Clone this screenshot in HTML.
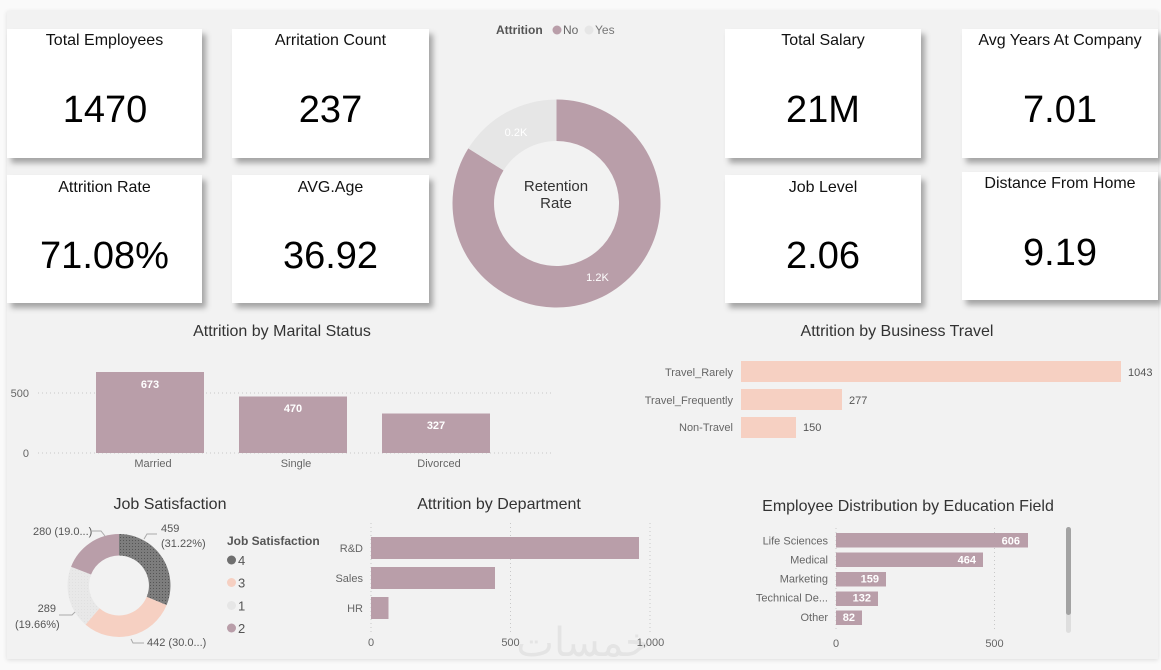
<!DOCTYPE html>
<html><head><meta charset="utf-8"><style>
html,body{margin:0;padding:0;background:#fafafa;}
svg{display:block;}
text{font-family:"Liberation Sans",sans-serif;}
.ct{font-size:16px;fill:#111;text-anchor:middle;}
.cv{font-size:38px;fill:#000;text-anchor:middle;}
.st{font-size:16px;fill:#333;text-anchor:middle;}
.ax{font-size:11px;fill:#666;}
.lb{font-size:11px;fill:#555;}
.wv{font-size:11px;fill:#fff;font-weight:bold;}
</style></head><body>
<svg width="1161" height="670" viewBox="0 0 1161 670" xmlns="http://www.w3.org/2000/svg">
<defs>
<filter id="sh" x="-10%" y="-10%" width="130%" height="130%">
<feDropShadow dx="4" dy="5" stdDeviation="3" flood-color="#000" flood-opacity="0.32"/>
</filter>
<filter id="psh" x="-2%" y="-2%" width="104%" height="104%">
<feDropShadow dx="0" dy="1" stdDeviation="2" flood-color="#000" flood-opacity="0.12"/>
</filter>
<pattern id="dots" width="3" height="3" patternUnits="userSpaceOnUse">
<rect width="3" height="3" fill="#7d7d7d"/>
<rect width="1" height="1" fill="#555"/>
</pattern>
<pattern id="ldots" width="3" height="3" patternUnits="userSpaceOnUse">
<rect width="3" height="3" fill="#e8e8e8"/>
<rect width="1" height="1" fill="#e0e0e0"/>
</pattern>
</defs>

<!-- panel -->
<rect x="7" y="11" width="1151" height="648" fill="#f2f2f2" filter="url(#psh)"/>

<!-- KPI cards -->
<g filter="url(#sh)" fill="#fff">
<rect x="7" y="29" width="195" height="129"/>
<rect x="232" y="29" width="197" height="129"/>
<rect x="7" y="175" width="195" height="128"/>
<rect x="232" y="175" width="197" height="128"/>
<rect x="725" y="29" width="196" height="129"/>
<rect x="962" y="29" width="196" height="129"/>
<rect x="725" y="175" width="196" height="128"/>
<rect x="962" y="172" width="196" height="128"/>
</g>
<text class="ct" x="104.5" y="45">Total Employees</text>
<text class="cv" x="105" y="122">1470</text>
<text class="ct" x="330.5" y="45">Arritation Count</text>
<text class="cv" x="330.5" y="122">237</text>
<text class="ct" x="104.5" y="192">Attrition Rate</text>
<text class="cv" x="104.5" y="268">71.08%</text>
<text class="ct" x="330.5" y="192">AVG.Age</text>
<text class="cv" x="330.5" y="268">36.92</text>
<text class="ct" x="823" y="45">Total Salary</text>
<text class="cv" x="823" y="122">21M</text>
<text class="ct" x="1060" y="45">Avg Years At Company</text>
<text class="cv" x="1060" y="122">7.01</text>
<text class="ct" x="823" y="192">Job Level</text>
<text class="cv" x="823" y="268">2.06</text>
<text class="ct" x="1060" y="188">Distance From Home</text>
<text class="cv" x="1060" y="265">9.19</text>

<!-- Retention donut -->
<text x="496" y="34" style="font-size:12px;font-weight:bold;fill:#555">Attrition</text>
<circle cx="557" cy="30" r="4.5" fill="#b99ea9"/>
<text x="563" y="34" style="font-size:12px;fill:#666">No</text>
<circle cx="589" cy="30" r="4.5" fill="#e6e6e6"/>
<text x="595" y="34" style="font-size:12px;fill:#777">Yes</text>
<path d="M556.5 99.5 A104 104 0 1 1 468.3 148.4 L503.5 170.4 A62.5 62.5 0 1 0 556.5 141 Z" fill="#b99ea9"/>
<path d="M468.3 148.4 A104 104 0 0 1 556.5 99.5 L556.5 141 A62.5 62.5 0 0 0 503.5 170.4 Z" fill="#e6e6e6"/>
<text x="516" y="136" style="font-size:11px;fill:#fff" text-anchor="middle">0.2K</text>
<text x="597.5" y="281" style="font-size:11px;fill:#fff" text-anchor="middle">1.2K</text>
<text x="556" y="191" style="font-size:15px;fill:#333" text-anchor="middle">Retention</text>
<text x="556" y="208" style="font-size:15px;fill:#333" text-anchor="middle">Rate</text>

<!-- Marital status -->
<text class="st" x="282" y="336">Attrition by Marital Status</text>
<g stroke="#c8c8c8" stroke-width="1" stroke-dasharray="1 3">
<line x1="38" y1="393" x2="553" y2="393"/>
<line x1="38" y1="453" x2="553" y2="453"/>
</g>
<text class="ax" x="29" y="397" text-anchor="end">500</text>
<text class="ax" x="29" y="457" text-anchor="end">0</text>
<g fill="#b99ea9">
<rect x="96" y="372" width="108" height="81"/>
<rect x="239" y="396.5" width="108" height="56.5"/>
<rect x="382" y="413.5" width="108" height="39.5"/>
</g>
<text class="wv" x="150" y="388" text-anchor="middle">673</text>
<text class="wv" x="293" y="412" text-anchor="middle">470</text>
<text class="wv" x="436" y="429" text-anchor="middle">327</text>
<text class="ax" x="153" y="467" text-anchor="middle">Married</text>
<text class="ax" x="296" y="467" text-anchor="middle">Single</text>
<text class="ax" x="439" y="467" text-anchor="middle">Divorced</text>

<!-- Business travel -->
<text class="st" x="897" y="336">Attrition by Business Travel</text>
<g fill="#f6d0c2">
<rect x="741" y="361" width="380" height="21"/>
<rect x="741" y="389" width="101" height="21"/>
<rect x="741" y="417" width="55" height="21"/>
</g>
<text class="ax" x="733" y="376" text-anchor="end">Travel_Rarely</text>
<text class="ax" x="733" y="404" text-anchor="end">Travel_Frequently</text>
<text class="ax" x="733" y="431" text-anchor="end">Non-Travel</text>
<text class="lb" x="1128" y="376">1043</text>
<text class="lb" x="849" y="404">277</text>
<text class="lb" x="803" y="431">150</text>

<!-- Job satisfaction -->
<text class="st" x="170" y="509">Job Satisfaction</text>
<path d="M119 534 A51.5 51.5 0 0 1 166.6 605.1 L146.7 596.9 A30 30 0 0 0 119 555.5 Z" fill="url(#dots)"/>
<path d="M166.6 605.1 A51.5 51.5 0 0 1 85.5 624.6 L99.5 608.3 A30 30 0 0 0 146.7 596.9 Z" fill="#f6d0c2"/>
<path d="M85.5 624.6 A51.5 51.5 0 0 1 71.05 566.7 L91.07 574.55 A30 30 0 0 0 99.5 608.3 Z" fill="url(#ldots)"/>
<path d="M71.05 566.7 A51.5 51.5 0 0 1 119 534 L119 555.5 A30 30 0 0 0 91.07 574.55 Z" fill="#b99ea9"/>
<g fill="none" stroke="#aaa" stroke-width="1">
<polyline points="92,531 101,531 105,536"/>
<polyline points="144,539 147,534 157,534"/>
<polyline points="59,615 72,615 75,612"/>
<polyline points="131,639 133,643 144,643"/>
</g>
<text class="lb" x="33" y="535">280 (19.0...)</text>
<text class="lb" x="161" y="532">459</text>
<text class="lb" x="161" y="547">(31.22%)</text>
<text class="lb" x="56" y="612" text-anchor="end">289</text>
<text class="lb" x="15" y="628">(19.66%)</text>
<text class="lb" x="147" y="646">442 (30.0...)</text>
<text x="227" y="545" style="font-size:12px;font-weight:bold;fill:#555">Job Satisfaction</text>
<circle cx="231.5" cy="560" r="4.5" fill="#6f6f6f"/>
<circle cx="231.5" cy="582.5" r="4.5" fill="#f6d0c2"/>
<circle cx="231.5" cy="605.5" r="4.5" fill="#e6e6e6"/>
<circle cx="231.5" cy="628" r="4.5" fill="#b99ea9"/>
<text x="238" y="565" style="font-size:13px;fill:#555">4</text>
<text x="238" y="587.5" style="font-size:13px;fill:#555">3</text>
<text x="238" y="610.5" style="font-size:13px;fill:#555">1</text>
<text x="238" y="633" style="font-size:13px;fill:#555">2</text>

<!-- Department -->
<text class="st" x="499" y="509">Attrition by Department</text>
<g stroke="#c8c8c8" stroke-width="1" stroke-dasharray="1 3">
<line x1="371" y1="523" x2="371" y2="632"/>
<line x1="510.5" y1="523" x2="510.5" y2="632"/>
<line x1="650" y1="523" x2="650" y2="632"/>
</g>
<g fill="#b99ea9">
<rect x="371" y="537" width="268" height="22"/>
<rect x="371" y="567" width="124" height="22"/>
<rect x="371" y="597" width="17.5" height="22"/>
</g>
<text class="ax" x="363" y="552" text-anchor="end">R&amp;D</text>
<text class="ax" x="363" y="582" text-anchor="end">Sales</text>
<text class="ax" x="363" y="612" text-anchor="end">HR</text>
<text x="583" y="656" text-anchor="middle" style="font-family:'DejaVu Sans',sans-serif;font-size:40px;fill:#e4e4e4">خمسات</text>
<text class="ax" x="371" y="646" text-anchor="middle">0</text>
<text class="ax" x="510.5" y="646" text-anchor="middle">500</text>
<text class="ax" x="650.5" y="646" text-anchor="middle">1,000</text>

<!-- Education field -->
<text class="st" x="908" y="511">Employee Distribution by Education Field</text>
<g stroke="#c8c8c8" stroke-width="1" stroke-dasharray="1 3">
<line x1="836" y1="528" x2="836" y2="632"/>
<line x1="994.5" y1="528" x2="994.5" y2="632"/>
</g>
<g fill="#b99ea9">
<rect x="836" y="533" width="192" height="14.5"/>
<rect x="836" y="552.5" width="147" height="14.5"/>
<rect x="836" y="572" width="50" height="14.5"/>
<rect x="836" y="591.5" width="42" height="14.5"/>
<rect x="836" y="610.5" width="26" height="14.5"/>
</g>
<text class="ax" x="828" y="544.5" text-anchor="end">Life Sciences</text>
<text class="ax" x="828" y="563.5" text-anchor="end">Medical</text>
<text class="ax" x="828" y="582.5" text-anchor="end">Marketing</text>
<text class="ax" x="828" y="601.5" text-anchor="end">Technical De...</text>
<text class="ax" x="828" y="621" text-anchor="end">Other</text>
<text class="wv" x="1020" y="544.5" text-anchor="end">606</text>
<text class="wv" x="976" y="563.5" text-anchor="end">464</text>
<text class="wv" x="879" y="582.5" text-anchor="end">159</text>
<text class="wv" x="871" y="601.5" text-anchor="end">132</text>
<text class="wv" x="855" y="621" text-anchor="end">82</text>
<text class="ax" x="836" y="647" text-anchor="middle">0</text>
<text class="ax" x="994.5" y="647" text-anchor="middle">500</text>
<rect x="1066" y="527" width="5" height="106" rx="2.5" fill="#dedede"/>
<rect x="1066" y="527" width="5" height="88" rx="2.5" fill="#a3a3a3"/>
</svg>
</body></html>
